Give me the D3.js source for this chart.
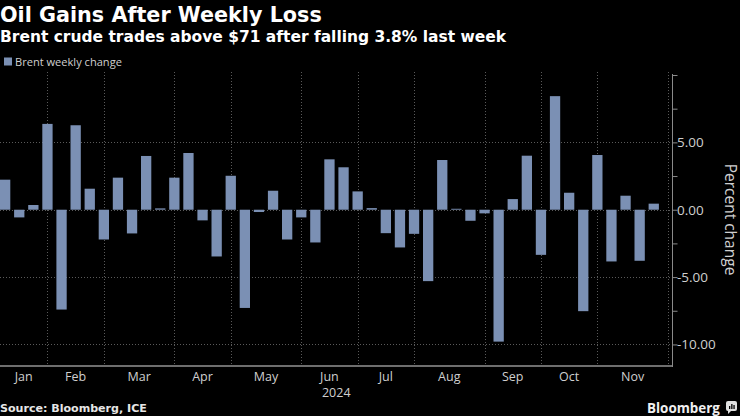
<!DOCTYPE html>
<html>
<head>
<meta charset="utf-8">
<script src="https://cdn.jsdelivr.net/npm/d3@7"></script>
<style>
  html, body { margin: 0; padding: 0; background: #000; }
  svg { display: block; }
</style>
</head>
<body>
<svg id="chart" width="740" height="416"></svg>
<script>
// ---- Data ----
const weeks = [
  "2024-01-05","2024-01-12","2024-01-19","2024-01-26",
  "2024-02-02","2024-02-09","2024-02-16","2024-02-23",
  "2024-03-01","2024-03-08","2024-03-15","2024-03-22","2024-03-29",
  "2024-04-05","2024-04-12","2024-04-19","2024-04-26",
  "2024-05-03","2024-05-10","2024-05-17","2024-05-24","2024-05-31",
  "2024-06-07","2024-06-14","2024-06-21","2024-06-28",
  "2024-07-05","2024-07-12","2024-07-19","2024-07-26",
  "2024-08-02","2024-08-09","2024-08-16","2024-08-23","2024-08-30",
  "2024-09-06","2024-09-13","2024-09-20","2024-09-27",
  "2024-10-04","2024-10-11","2024-10-18","2024-10-25",
  "2024-11-01","2024-11-08","2024-11-15","2024-11-22"
];
const weeklyChange = [
  2.23, -0.57, 0.35, 6.37,
  -7.41, 6.27, 1.56, -2.21,
  2.38, -1.76, 3.99, 0.10, 2.38,
  4.21, -0.79, -3.47, 2.52,
  -7.29, -0.17, 1.41, -2.21, -0.57,
  -2.43, 3.74, 3.15, 1.36,
  0.12, -1.74, -2.80, -1.79,
  -5.30, 3.69, 0.07, -0.82, -0.27,
  -9.79, 0.79, 4.01, -3.35,
  8.43, 1.26, -7.53, 4.06,
  -3.84, 1.04, -3.79, 0.45
];
// axis slots: the weeks plus the following (empty) week used for the final month boundary
const axisSlots = weeks.concat(["2024-11-29"]);
const monthLabels = ["Jan","Feb","Mar","Apr","May","Jun","Jul","Aug","Sep","Oct","Nov"];
const monthBoundaryWeeks = ["2024-01-26","2024-02-23","2024-03-29","2024-04-26","2024-05-31",
  "2024-06-28","2024-07-26","2024-08-30","2024-09-27","2024-10-25","2024-11-29"];
const yearLabel = "2024";
const yTicksMajor = [-10, -5, 0, 5];
const yTicksMinor = [-10, -7.5, -5, -2.5, 0, 2.5, 5, 7.5, 10];
const yDomain = [-11.6, 10];

// ---- Layout ----
const svg = d3.select("#chart");
const plotLeft = 0, plotRight = 672.5, plotTop = 75, plotBottom = 366;
const barColor = "#7b90b4";
const textColor = "#cfcfcf";
const gridColor = "#5a5a5a";
const labelFont = "'Open Sans', 'DejaVu Sans', sans-serif";
const headFont = "'DejaVu Sans', 'Open Sans', sans-serif";

function fitWidth(sel, target) {
  const len = sel.node().getComputedTextLength();
  const fs = parseFloat(sel.attr("font-size"));
  if (len > 0) sel.attr("font-size", (fs * target / len).toFixed(2));
  return sel;
}

const x = d3.scaleBand()
  .domain(axisSlots)
  .range([-1.9, -1.9 + 14.1 * axisSlots.length])
  .paddingInner(0.27)
  .paddingOuter(0.135);

const y = d3.scaleLinear().domain(yDomain).range([plotBottom, plotTop]);

const center = d => x(d) + x.bandwidth() / 2;

// Title & subtitle
fitWidth(svg.append("text").attr("x", 0).attr("y", 21.5)
  .attr("fill", "#fff").attr("font-family", headFont)
  .attr("font-size", 19).attr("font-weight", "bold")
  .text("Oil Gains After Weekly Loss"), 322);
fitWidth(svg.append("text").attr("x", 0).attr("y", 42)
  .attr("fill", "#fff").attr("font-family", headFont)
  .attr("font-size", 15).attr("font-weight", "bold")
  .text("Brent crude trades above $71 after falling 3.8% last week"), 506);

// Legend
svg.append("rect").attr("x", 4).attr("y", 57.5).attr("width", 8).attr("height", 8).attr("fill", barColor);
fitWidth(svg.append("text").attr("x", 15).attr("y", 65.5)
  .attr("fill", textColor).attr("font-family", labelFont).attr("font-size", 12)
  .text("Brent weekly change"), 107);

// Gridlines
const grid = svg.append("g");
grid.selectAll("line.h").data(yTicksMajor).join("line")
  .attr("x1", plotLeft).attr("x2", plotRight)
  .attr("y1", d => Math.round(y(d)) + 0.5).attr("y2", d => Math.round(y(d)) + 0.5)
  .attr("stroke", gridColor).attr("stroke-width", 1).attr("stroke-dasharray", "1,2");
grid.selectAll("line.v").data(monthBoundaryWeeks).join("line")
  .attr("x1", d => Math.round(center(d)) + 0.5).attr("x2", d => Math.round(center(d)) + 0.5)
  .attr("y1", plotTop - 3).attr("y2", plotBottom)
  .attr("stroke", gridColor).attr("stroke-width", 1).attr("stroke-dasharray", "1,2");

// Bars
svg.append("g").selectAll("rect").data(weeks).join("rect")
  .attr("x", d => x(d))
  .attr("width", x.bandwidth())
  .attr("y", (d, i) => y(Math.max(0, weeklyChange[i])))
  .attr("height", (d, i) => Math.abs(y(weeklyChange[i]) - y(0)))
  .attr("fill", barColor);

// X axis line
svg.append("line").attr("x1", plotLeft).attr("x2", plotRight)
  .attr("y1", plotBottom).attr("y2", plotBottom)
  .attr("stroke", "#6e6e6e").attr("stroke-width", 2);

// Month labels
const boundaries = [plotLeft].concat(monthBoundaryWeeks.map(center));
svg.append("g").selectAll("text").data(monthLabels).join("text")
  .attr("x", (d, i) => (boundaries[i] + boundaries[i + 1]) / 2)
  .attr("y", 381)
  .attr("text-anchor", "middle")
  .attr("fill", textColor).attr("font-family", labelFont).attr("font-size", 12.5)
  .text(d => d);
svg.append("text").attr("x", (plotLeft + plotRight) / 2).attr("y", 396.5)
  .attr("text-anchor", "middle")
  .attr("fill", textColor).attr("font-family", labelFont).attr("font-size", 12.5)
  .text(yearLabel);

// Y axis (right)
const yAxis = d3.axisRight(y).tickValues(yTicksMinor).tickSize(5).tickFormat("");
const yg = svg.append("g").attr("transform", `translate(${plotRight},0)`).call(yAxis);
yg.select(".domain").attr("stroke", "#8a8a8a").attr("d", `M0,${plotTop - 1}V${plotBottom + 1}`);
yg.selectAll(".tick line").attr("stroke", "#8a8a8a");
svg.append("g").selectAll("text").data(yTicksMajor).join("text")
  .attr("x", plotRight + 4.5)
  .attr("y", d => y(d))
  .attr("dy", "0.36em")
  .attr("fill", textColor).attr("font-family", labelFont).attr("font-size", 13.5)
  .text(d => d3.format(".2f")(d).replace("−", "-"));

svg.append("text")
  .attr("transform", `translate(724.5,${(y(10) + y(-11.6)) / 2 - 1}) rotate(90)`)
  .attr("text-anchor", "middle")
  .attr("fill", textColor).attr("font-family", labelFont).attr("font-size", 15.5)
  .text("Percent change");

// Footer
fitWidth(svg.append("text").attr("x", 0).attr("y", 412)
  .attr("fill", "#e6e6e6").attr("font-family", headFont)
  .attr("font-size", 12).attr("font-weight", "bold")
  .text("Source: Bloomberg, ICE"), 147);
fitWidth(svg.append("text").attr("x", 647).attr("y", 413)
  .attr("fill", "#f0f0f0").attr("font-family", labelFont)
  .attr("font-size", 14.5).attr("font-weight", "bold")
  .text("Bloomberg"), 73);
const logo = svg.append("g").attr("transform", "translate(726,401)");
logo.append("rect").attr("width", 11).attr("height", 10).attr("rx", 2).attr("fill", "#e0e0e0");
logo.append("path").attr("d", "M2,10 L2,13 L5,10 Z").attr("fill", "#e0e0e0");
[[3,5,1.3,3],[5.2,3,1.3,5],[7.4,4,1.3,4]].forEach(b =>
  logo.append("rect").attr("x", b[0]).attr("y", b[1]).attr("width", b[2]).attr("height", b[3]).attr("fill", "#000"));
</script>
</body>
</html>
